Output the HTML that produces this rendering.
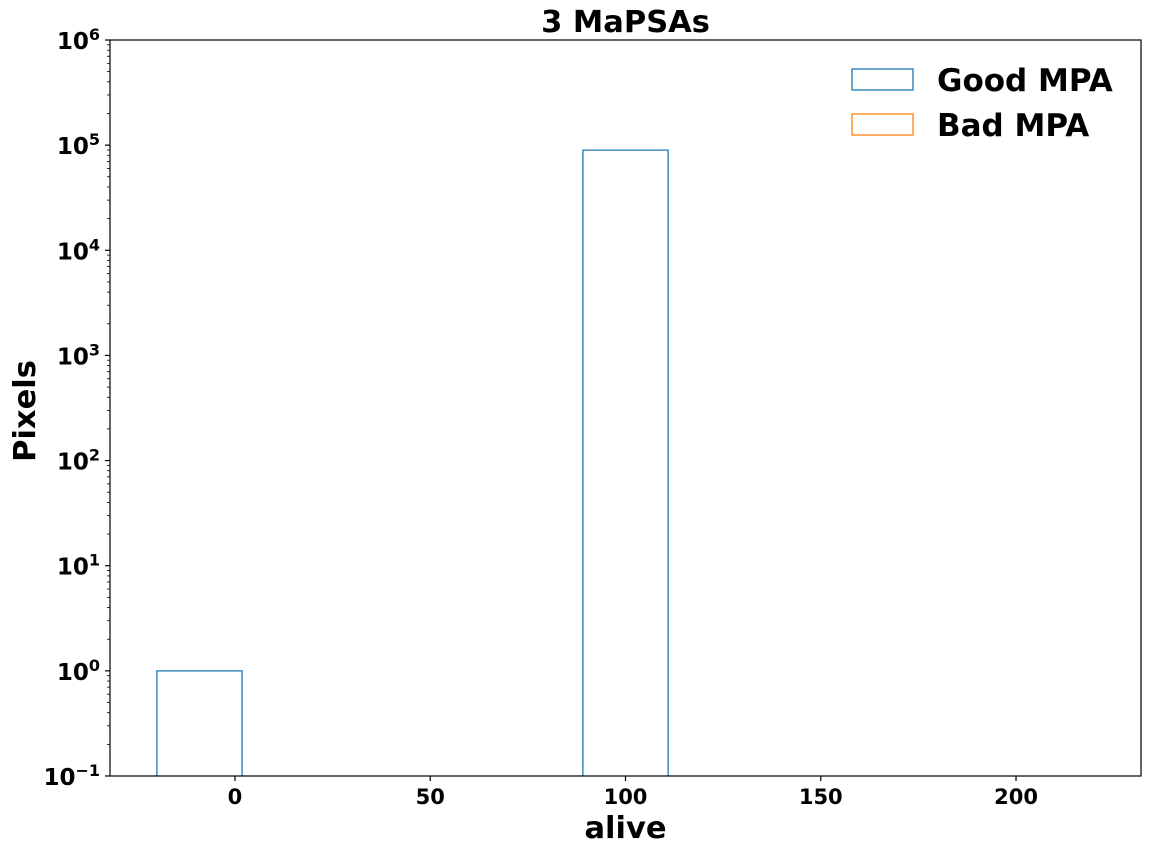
<!DOCTYPE html>
<html><head><meta charset="utf-8"><style>
body{margin:0;background:#fff;}
svg text{font-family:"DejaVu Sans","Liberation Sans",sans-serif;font-weight:bold;}
</style></head><body>
<svg id="chart" width="1154" height="853" xmlns="http://www.w3.org/2000/svg"></svg>
<script>
const binEdges = [-20, 1.818, 23.636, 45.455, 67.273, 89.091, 110.909, 132.727, 154.545, 176.364, 198.182, 220];
const goodCounts = [1, 0, 0, 0, 0, 89600, 0, 0, 0, 0, 0];
const badCounts = [0, 0, 0, 0, 0, 0, 0, 0, 0, 0, 0];
const xTicks = [0, 50, 100, 150, 200];
const yExps = [-1, 0, 1, 2, 3, 4, 5, 6];

const svg = document.getElementById('chart');
const NS = 'http://www.w3.org/2000/svg';
const L = 110, R = 1141, T = 40, B = 776;
const xMin = -32, xMax = 232, yMin = -1, yMax = 6;
const xs = v => L + (v - xMin) / (xMax - xMin) * (R - L);
const ys = v => B - (Math.log10(v) - yMin) / (yMax - yMin) * (B - T);
function el(tag, attrs, text) {
  const e = document.createElementNS(NS, tag);
  for (const k in attrs) e.setAttribute(k, attrs[k]);
  if (text !== undefined) e.textContent = text;
  svg.appendChild(e);
  return e;
}
function bars(counts, color, name) {
  counts.forEach((c, i) => {
    if (c <= 0) return;
    const x0 = xs(binEdges[i]), x1 = xs(binEdges[i + 1]), y = ys(c);
    const p = el('path', {d: `M${x0},${B} L${x0},${y} L${x1},${y} L${x1},${B}`, fill: 'none', stroke: color, 'stroke-width': 1.3});
    
    
  });
}
bars(goodCounts, '#1f77b4', 'good-mpa');
bars(badCounts, '#ff7f0e', 'bad-mpa');

const frame = el('rect', {x: L, y: T, width: R - L, height: B - T, fill: 'none', stroke: '#000', 'stroke-width': 1.2});



xTicks.forEach(t => {
  const x = xs(t);
  el('line', {x1: x, x2: x, y1: B, y2: B + 5, stroke: '#000', 'stroke-width': 1.2});
  const tx = el('text', {x: x, y: B + 28, 'font-size': 21, 'text-anchor': 'middle'}, String(t));
  
  
});
yExps.forEach(e => {
  const y = ys(Math.pow(10, e));
  el('line', {x1: L - 5, x2: L, y1: y, y2: y, stroke: '#000', 'stroke-width': 1.2});
  if (e < yMax) for (let m = 2; m <= 9; m++) {
    const ym = ys(m * Math.pow(10, e));
    el('line', {x1: L - 3, x2: L, y1: ym, y2: ym, stroke: '#000', 'stroke-width': 0.8});
  }
  const tx = el('text', {x: L - 10, y: y + 9, 'font-size': 23, 'text-anchor': 'end'});
  
  
  const a = document.createElementNS(NS, 'tspan'); a.textContent = '10'; tx.appendChild(a);
  const b = document.createElementNS(NS, 'tspan'); b.textContent = e < 0 ? '\u2212' + Math.abs(e) : String(e);
  b.setAttribute('dy', -9); b.setAttribute('font-size', 16); tx.appendChild(b);
});

const title = el('text', {x: (L + R) / 2, y: 32, 'font-size': 30.5, 'text-anchor': 'middle'}, '3 MaPSAs');


const xl = el('text', {x: (L + R) / 2, y: 838, 'font-size': 30.5, 'text-anchor': 'middle'}, 'alive');


const yl = el('text', {x: 35, y: 411, 'font-size': 30.5, 'text-anchor': 'middle', transform: `rotate(-90 35 411)`}, 'Pixels');



[['Good MPA', '#1f77b4', 69], ['Bad MPA', '#ff7f0e', 114]].forEach(([lab, col, y], i) => {
  const r = el('rect', {x: 852, y: y, width: 61, height: 21, fill: 'none', stroke: col, 'stroke-width': 1.3});
  
  
  const t = el('text', {x: 937, y: y + 22, 'font-size': 31}, lab);
  
  
});
</script>
</body></html>
